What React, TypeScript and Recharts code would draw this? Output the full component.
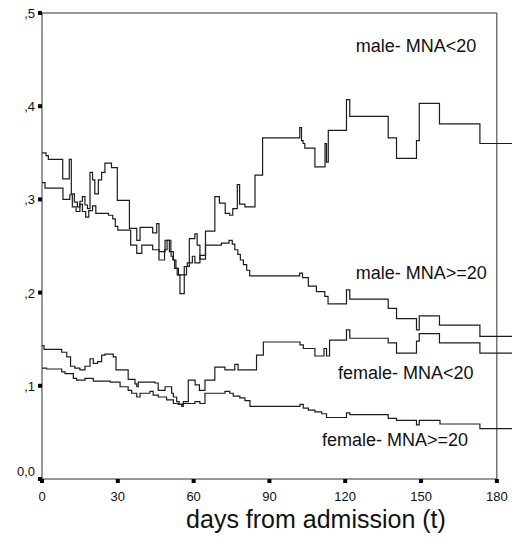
import React from 'react';
import { LineChart, Line, XAxis, YAxis, ReferenceLine, ReferenceDot } from 'recharts';

// ---- data (days from admission, proportion) ----
const maleLowDays = [0, 1.6, 2.5, 8.2, 10.8, 11.6, 12.8, 14, 15, 16, 17, 18, 19, 20, 20.9, 22.3, 23.6, 24.9, 27.5, 29.8, 34.6, 37.5, 38.8, 43.8, 45.4, 46.3, 48.7, 50.4, 51.1, 51.8, 52.5, 53.5, 54.6, 56.3, 57.2, 58.3, 60.5, 61.4, 62.5, 64.7, 68.4, 70.2, 72.5, 74.3, 75.5, 77.3, 78.2, 80.3, 84.3, 87.3, 102, 102.7, 103.3, 104, 108, 112, 112.6, 113.3, 120.5, 121.8, 137, 140.3, 148.2, 149.3, 157.3, 173.3, 186];
const maleLowValues = [0.350, 0.347, 0.343, 0.322, 0.343, 0.306, 0.297, 0.292, 0.298, 0.303, 0.294, 0.290, 0.329, 0.321, 0.306, 0.321, 0.329, 0.339, 0.334, 0.299, 0.269, 0.256, 0.270, 0.264, 0.274, 0.244, 0.256, 0.244, 0.239, 0.235, 0.226, 0.219, 0.199, 0.219, 0.228, 0.258, 0.263, 0.251, 0.236, 0.266, 0.303, 0.296, 0.285, 0.283, 0.290, 0.316, 0.295, 0.292, 0.326, 0.366, 0.377, 0.363, 0.360, 0.355, 0.335, 0.360, 0.340, 0.374, 0.407, 0.389, 0.366, 0.344, 0.363, 0.403, 0.381, 0.360, 0.360];

const maleHighDays = [0, 1.2, 8.3, 11, 12, 13.5, 15, 16, 17.3, 18.5, 20, 21.3, 26.3, 28, 29, 30, 35.1, 37.5, 39.5, 43.8, 46.3, 48.5, 49.5, 51, 52, 53, 54, 56.3, 57.5, 59.5, 60.5, 62.5, 64.7, 71, 74, 75.3, 76.3, 77.5, 78.5, 79.7, 81, 82.2, 102, 103.1, 105.4, 108.6, 111.9, 113.2, 120.5, 121.8, 137, 140.3, 148.2, 149.3, 157.3, 173.3, 186];
const maleHighValues = [0.318, 0.312, 0.300, 0.305, 0.292, 0.287, 0.295, 0.287, 0.281, 0.288, 0.293, 0.285, 0.283, 0.279, 0.271, 0.267, 0.251, 0.242, 0.251, 0.246, 0.235, 0.246, 0.256, 0.244, 0.235, 0.226, 0.219, 0.228, 0.232, 0.239, 0.232, 0.240, 0.251, 0.253, 0.256, 0.252, 0.246, 0.241, 0.235, 0.230, 0.224, 0.218, 0.221, 0.216, 0.207, 0.201, 0.196, 0.188, 0.203, 0.193, 0.183, 0.172, 0.160, 0.175, 0.165, 0.153, 0.153];

const femaleLowDays = [0, 0.8, 7.8, 9.8, 11.3, 13, 15, 17, 19, 20.3, 22, 23.6, 24.9, 28.2, 29.3, 34.1, 36.8, 37.5, 38.1, 44.7, 46, 48.7, 51.3, 52, 53.3, 54.3, 55.9, 57.9, 60.6, 62.3, 64.5, 68.4, 72.4, 76.3, 77.6, 84.9, 87.6, 102.1, 103.4, 108, 111.6, 112.6, 113.8, 120.5, 121.8, 137, 140.3, 148.2, 149.3, 157.3, 173.3, 186];
const femaleLowValues = [0.143, 0.139, 0.136, 0.131, 0.121, 0.119, 0.117, 0.121, 0.129, 0.124, 0.126, 0.133, 0.134, 0.131, 0.117, 0.107, 0.102, 0.099, 0.104, 0.103, 0.095, 0.099, 0.092, 0.088, 0.083, 0.080, 0.083, 0.106, 0.101, 0.095, 0.106, 0.120, 0.117, 0.123, 0.117, 0.133, 0.147, 0.144, 0.140, 0.132, 0.140, 0.132, 0.149, 0.160, 0.151, 0.146, 0.135, 0.148, 0.156, 0.146, 0.135, 0.135];

const femaleHighDays = [0, 1.8, 7.8, 9.1, 12.4, 13.7, 17, 20.3, 27, 30.9, 34.1, 35.5, 37.5, 38.8, 42.7, 44, 46, 49.3, 52, 53.9, 55.3, 55.9, 60.5, 62.5, 64.5, 72.4, 74.3, 75.7, 78.3, 80.3, 82.3, 102.1, 103.4, 105.4, 108, 110.7, 112.6, 120.5, 121.8, 137, 140.3, 148.2, 149.3, 157.5, 173.3, 186];
const femaleHighValues = [0.119, 0.118, 0.115, 0.113, 0.108, 0.106, 0.108, 0.105, 0.104, 0.099, 0.095, 0.092, 0.088, 0.092, 0.094, 0.090, 0.088, 0.085, 0.081, 0.080, 0.078, 0.081, 0.083, 0.081, 0.092, 0.094, 0.092, 0.089, 0.087, 0.084, 0.078, 0.080, 0.076, 0.074, 0.072, 0.070, 0.066, 0.071, 0.069, 0.065, 0.063, 0.058, 0.063, 0.059, 0.054, 0.054];

const seriesNames = ['male- MNA<20', 'male- MNA>=20', 'female- MNA<20', 'female- MNA>=20'];
const xTicks = [0, 30, 60, 90, 120, 150, 180];
const yTicks = [0, 0.1, 0.2, 0.3, 0.4, 0.5];
const yTickLabels = ['0,0', ',1', ',2', ',3', ',4', ',5'];
const xTitle = 'days from admission (t)';

// ---- layout ----
const FONT = '"Liberation Sans", Arial, Helvetica, sans-serif';
const INK = '#1c1c1c';
const FRAME = '#333';
const X_MAX = 186;
const X_END = 180;
const Y_MAX = 0.5;
// label anchor points (data space, left/baseline)
const labelAnchors = [
  { x: 124.2, y: 0.458 },
  { x: 124.2, y: 0.2146 },
  { x: 117.1, y: 0.107 },
  { x: 110.8, y: 0.035 },
];

const zip = (days: number[], vals: number[]) => days.map((t, i) => ({ t, v: vals[i] }));
const series = [
  zip(maleLowDays, maleLowValues),
  zip(maleHighDays, maleHighValues),
  zip(femaleLowDays, femaleLowValues),
  zip(femaleHighDays, femaleHighValues),
];

const YTick = (props: any) => {
  const { x, y, payload } = props;
  let idx = 0;
  yTicks.forEach((v, i) => { if (Math.abs(v - payload.value) < 1e-6) idx = i; });
  return (
    <text x={x} y={y + (idx === 0 ? -3 : 5)} textAnchor="end" fontSize={13} fontFamily={FONT} fill="#111">
      {yTickLabels[idx]}
    </text>
  );
};

const XTick = (props: any) => {
  const { x, y, payload } = props;
  return (
    <text x={x} y={y} textAnchor="middle" fontSize={13} fontFamily={FONT} fill="#111">
      {payload.value}
    </text>
  );
};

const XTitle = (props: any) => {
  const vb = props.viewBox || { x: 42, y: 479, width: 470, height: 59 };
  return (
    <text x={vb.x + 274} y={vb.y + 49} textAnchor="middle" fontSize={25} fontFamily={FONT} fill="#111">
      {xTitle}
    </text>
  );
};

const makeLabel = (text: string) => (props: any) => (
  <text x={props.cx} y={props.cy} fontSize={18} fontFamily={FONT} fill="#111">
    {text}
  </text>
);

export default function App() {
  return (
    <div style={{ position: 'absolute', left: 0, top: 0, width: 512, height: 538, background: '#fff' }}>
      <LineChart width={512} height={538} margin={{ top: 13, right: 0, bottom: 0, left: 0 }}>
        <XAxis
          type="number"
          dataKey="t"
          domain={[0, X_MAX]}
          ticks={xTicks}
          interval={0}
          allowDataOverflow
          axisLine={false}
          tickLine={{ stroke: '#000', strokeWidth: 4 }}
          tickSize={4}
          tickMargin={18}
          height={59}
          tick={<XTick />}
          label={{ content: <XTitle /> }}
        />
        <YAxis
          type="number"
          domain={[0, Y_MAX]}
          ticks={yTicks}
          interval={0}
          width={42}
          axisLine={{ stroke: FRAME, strokeWidth: 1 }}
          tickLine={{ stroke: '#000', strokeWidth: 4 }}
          tickSize={4}
          tickMargin={3}
          tick={<YTick />}
        />
        <ReferenceLine segment={[{ x: 0, y: 0 }, { x: X_END, y: 0 }]} stroke={FRAME} strokeWidth={1} />
        <ReferenceLine segment={[{ x: 0, y: Y_MAX }, { x: X_END, y: Y_MAX }]} stroke={FRAME} strokeWidth={1} />
        <ReferenceLine segment={[{ x: X_END, y: 0 }, { x: X_END, y: Y_MAX }]} stroke={FRAME} strokeWidth={1} />
        {series.map((d, i) => (
          <Line
            key={seriesNames[i]}
            data={d}
            dataKey="v"
            type="stepAfter"
            stroke={INK}
            strokeWidth={1.2}
            dot={false}
            activeDot={false}
            isAnimationActive={false}
          />
        ))}
        {seriesNames.map((name, i) => (
          <ReferenceDot
            key={'lbl' + i}
            x={labelAnchors[i].x}
            y={labelAnchors[i].y}
            r={0}
            shape={makeLabel(name)}
          />
        ))}
      </LineChart>
    </div>
  );
}
